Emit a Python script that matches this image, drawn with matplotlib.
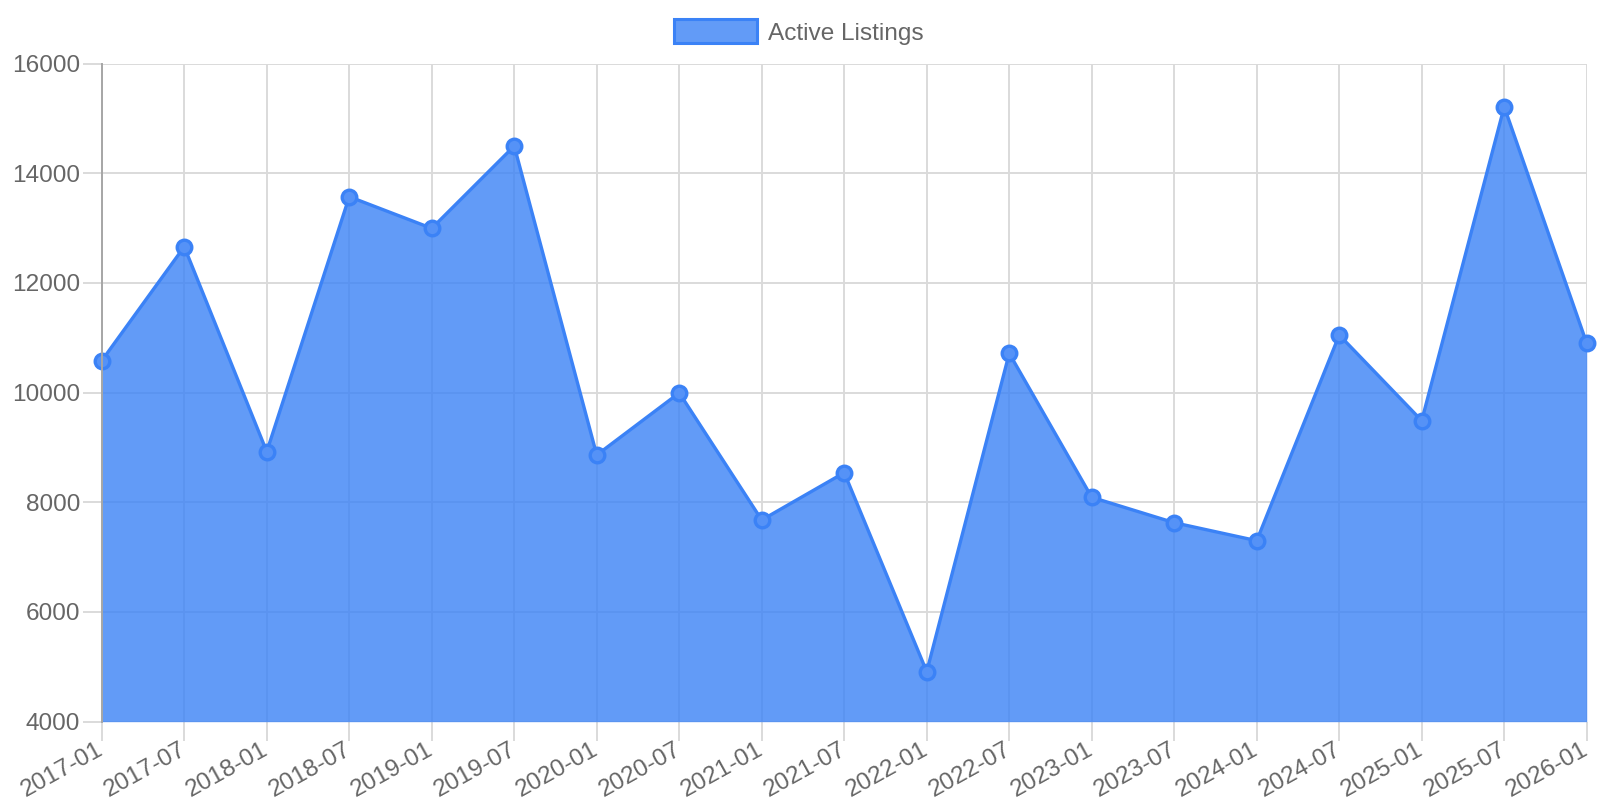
import matplotlib
matplotlib.use("Agg")
import matplotlib.pyplot as plt
from matplotlib.patches import Patch

plt.rcParams['font.family'] = ['Liberation Sans', 'DejaVu Sans']

dates = ["2017-01", "2017-07", "2018-01", "2018-07", "2019-01", "2019-07",
         "2020-01", "2020-07", "2021-01", "2021-07", "2022-01", "2022-07",
         "2023-01", "2023-07", "2024-01", "2024-07", "2025-01", "2025-07",
         "2026-01"]
active_listings = [10582, 12660, 8923, 13572, 12995, 14496,
                   8862, 9995, 7677, 8540, 4912, 10716,
                   8091, 7628, 7300, 11050, 9488, 15212,
                   10899]
y_ticks = [4000, 6000, 8000, 10000, 12000, 14000, 16000]
series_label = "Active Listings"

LINE = '#3B82F6'
FILL = (59/255, 130/255, 246/255, 0.8)
GRID = '#DADADA'
TEXT = '#666666'

fig = plt.figure(figsize=(16, 8), dpi=100)
ax = fig.add_axes([0.0636, 0.0979, 0.9281, 0.8227])

x = list(range(len(dates)))
ymin, ymax = y_ticks[0], y_ticks[-1]

ax.fill_between(x, active_listings, ymin, color=FILL, linewidth=0, zorder=2)
ax.plot(x, active_listings, color=LINE, linewidth=2.4, zorder=3,
        marker='o', markersize=10.5, markerfacecolor='#5592F7',
        markeredgecolor=LINE, markeredgewidth=2.4, clip_on=False)

ax.set_xlim(0, len(dates) - 1)
ax.set_ylim(ymin, ymax)
ax.set_xticks(x)
ax.set_xticklabels(dates, rotation=29, ha='right', va='center',
                   rotation_mode='anchor')
ax.set_yticks(y_ticks)
ax.set_yticklabels([str(v) for v in y_ticks])

ax.grid(True, color=GRID, linewidth=1.4, zorder=0)
ax.set_axisbelow(True)
ax.tick_params(axis='both', colors=GRID, labelcolor=TEXT, labelsize=17.6,
               length=14, width=1.4)
ax.tick_params(axis='x', pad=5)
ax.tick_params(axis='y', pad=1.5)

for side in ['top', 'right', 'bottom']:
    ax.spines[side].set_visible(False)
ax.spines['left'].set_color('#A6A6A6')
ax.spines['left'].set_linewidth(1.4)
ax.spines['left'].set_zorder(4)

handle = Patch(facecolor=FILL, edgecolor=LINE, linewidth=2.2)
fig.legend(handles=[handle], labels=[series_label], loc='center',
           bbox_to_anchor=(0.499, 0.96), frameon=False, fontsize=17.6,
           handlelength=3.4, handleheight=1.1, handletextpad=0.45,
           labelcolor=TEXT, borderpad=0)

fig.savefig('out.png', dpi=100, facecolor='white')
